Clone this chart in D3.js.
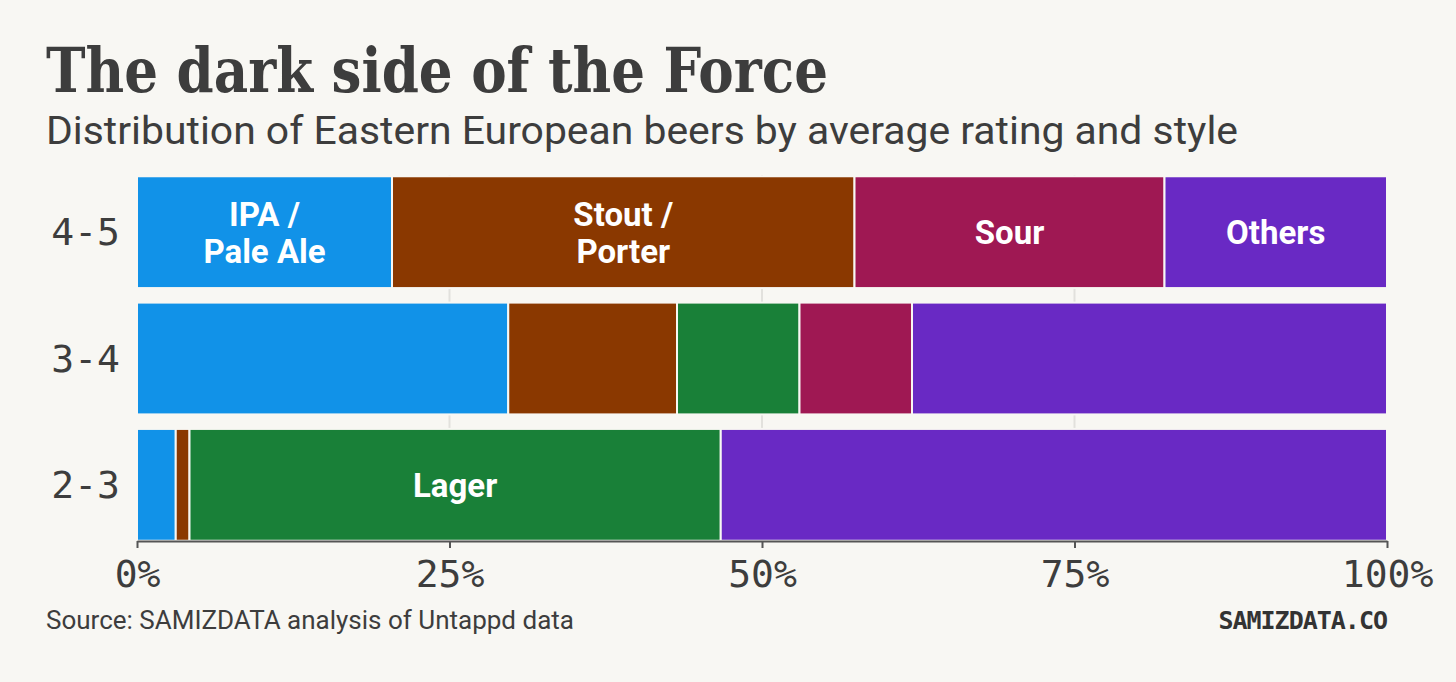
<!DOCTYPE html>
<html><head><meta charset="utf-8">
<script src="https://cdn.jsdelivr.net/npm/d3@7"></script>
<style>
body{margin:0;background:#f8f7f3;}
</style></head>
<body><svg id="svg" width="1456" height="682"></svg>
<script>
// data (percent of beers per rating band)
var bands = ["4-5", "3-4", "2-3"];
var styles = ["IPA / Pale Ale", "Stout / Porter", "Lager", "Sour", "Others"];
var ipa    = [20.4, 29.7, 3.1];
var stout  = [37.0, 13.5, 1.1];
var lager  = [0.0,  9.8, 42.5];
var sour   = [24.8, 9.0, 0.0];
var others = [17.8, 38.0, 53.3];
var colors = ["#1192e8", "#8a3800", "#198038", "#9f1853", "#6929c4"];
var ticks = [0, 25, 50, 75, 100];
// in-bar labels: [band, style index, lines]
var labels = [
  ["4-5", 0, ["IPA /", "Pale Ale"]],
  ["4-5", 1, ["Stout /", "Porter"]],
  ["4-5", 3, ["Sour"]],
  ["4-5", 4, ["Others"]],
  ["2-3", 2, ["Lager"]]
];

var svg = d3.select("#svg");
var series = [ipa, stout, lager, sour, others];

svg.append("text").attr("x", 46).attr("y", 92)
  .style("font", "bold 62px 'DejaVu Serif'").attr("fill", "#3d3d3d")
  .attr("textLength", 782).attr("lengthAdjust", "spacingAndGlyphs")
  .text("The dark side of the Force");
svg.append("text").attr("x", 46).attr("y", 144)
  .style("font", "38px Roboto").attr("fill", "#3d3d3d")
  .attr("textLength", 1192).attr("lengthAdjust", "spacingAndGlyphs")
  .text("Distribution of Eastern European beers by average rating and style");

var x = d3.scaleLinear().domain([0, 100]).range([137, 1387]);
var y = d3.scaleBand().domain(bands).range([175, 542]).paddingInner(0.115).paddingOuter(0.01);

// grid
svg.selectAll(".grid").data(ticks.slice(1, 4)).enter().append("line")
  .attr("x1", d => x(d)).attr("x2", d => x(d))
  .attr("y1", 175).attr("y2", 541)
  .attr("stroke", "#e2e1dd").attr("stroke-width", 2);

bands.forEach(function(b, i){
  var acc = 0;
  series.forEach(function(s, k){
    var v = s[i];
    if (v > 0){
      svg.append("rect")
        .attr("x", x(acc)).attr("width", x(acc + v) - x(acc))
        .attr("y", y(b)).attr("height", y.bandwidth())
        .attr("fill", colors[k]).attr("stroke", "#f8f7f3").attr("stroke-width", 2);
    }
    acc += v;
  });
  svg.append("text").attr("x", 120).attr("y", y(b) + y.bandwidth() / 2 + 13)
    .attr("text-anchor", "end").style("font", "38px 'DejaVu Sans Mono'").attr("fill", "#3d3d3d")
    .text(b);
});

labels.forEach(function(l){
  var i = bands.indexOf(l[0]);
  var start = d3.sum(series.slice(0, l[1]), s => s[i]);
  var cx = x(start + series[l[1]][i] / 2);
  var cy = y(l[0]) + y.bandwidth() / 2;
  var n = l[2].length;
  l[2].forEach(function(t, j){
    svg.append("text").attr("x", cx).attr("y", cy + 12 + (j - (n - 1) / 2) * 37)
      .attr("text-anchor", "middle").style("font", "bold 33px Roboto").attr("fill", "#fff")
      .text(t);
  });
});

var axis = d3.axisBottom(x).tickValues(ticks).tickFormat(d => d + "%").tickSize(7).tickSizeOuter(0);
var g = svg.append("g").attr("transform", "translate(0,541)").call(axis);
g.select(".domain").attr("stroke", "#555").attr("stroke-width", 2);
g.selectAll(".tick line").attr("stroke", "#555").attr("stroke-width", 2);
g.selectAll(".tick text").attr("dy", 0).attr("y", 46).attr("fill", "#3d3d3d")
  .style("font", "38px 'DejaVu Sans Mono'");

svg.append("text").attr("x", 46).attr("y", 629)
  .style("font", "26px Roboto").attr("fill", "#3d3d3d")
  .text("Source: SAMIZDATA analysis of Untappd data");
svg.append("text").attr("x", 1387).attr("y", 629).attr("text-anchor", "end")
  .style("font", "bold 25px 'DejaVu Sans Mono'").attr("fill", "#333")
  .attr("letter-spacing", -1).text("SAMIZDATA.CO");
</script>
</body></html>
